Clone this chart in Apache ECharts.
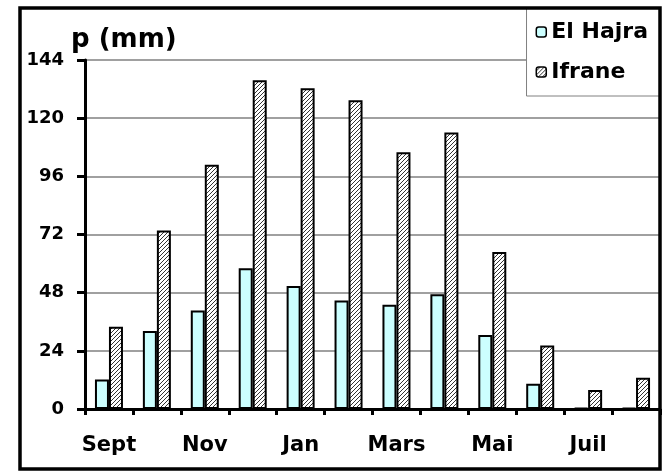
<!DOCTYPE html>
<html>
<head>
<meta charset="utf-8">
<script src="https://cdn.jsdelivr.net/npm/echarts@6/dist/echarts.min.js"></script>
<style>
html,body{margin:0;padding:0;background:#fff;}
#chart{width:664px;height:471px;}
</style>
</head>
<body>
<div id="chart"></div>
<script>
const categories = ['Sept','Oct','Nov','Déc','Jan','Fév','Mars','Avr','Mai','Juin','Juil','Août'];
const elHajra = [12.2, 32.2, 40.6, 58.1, 50.7, 44.8, 43.0, 47.3, 30.5, 10.4, 0.4, 0.4];
const ifrane  = [33.9, 73.6, 100.8, 135.6, 132.3, 127.4, 105.9, 114.1, 64.8, 26.2, 7.8, 12.9];
const yTicks = {min: 0, max: 144, interval: 24};
const seriesNames = ['El Hajra', 'Ifrane'];
const yTitle = 'p (mm)';

// hatch pattern for Ifrane
const pc = document.createElement('canvas');
pc.width = 4; pc.height = 4;
const ctx = pc.getContext('2d');
ctx.fillStyle = '#ffffff';
ctx.fillRect(0,0,4,4);
ctx.strokeStyle = '#333333';
ctx.lineWidth = 1;
ctx.beginPath();
ctx.moveTo(-1,5); ctx.lineTo(5,-1);
ctx.moveTo(-1,1); ctx.lineTo(1,-1);
ctx.moveTo(3,5); ctx.lineTo(5,3);
ctx.stroke();
const hatch = {image: pc, repeat: 'repeat'};

const FONT = 'DejaVu Sans';
const chart = echarts.init(document.getElementById('chart'), null, {renderer: 'canvas'});
chart.setOption({
  animation: false,
  backgroundColor: '#fff',
  grid: {left: 85, right: 4, top: 60, bottom: 62, containLabel: false},
  title: {
    text: yTitle, left: 66, top: 22,
    textStyle: {fontFamily: FONT, fontWeight: 'bold', fontSize: 26, color: '#000'}
  },
  legend: {
    data: seriesNames,
    orient: 'vertical',
    right: 4, top: 8,
    padding: [13, 12, 13, 9],
    itemGap: 18,
    itemWidth: 10, itemHeight: 10,
    borderColor: '#808080', borderWidth: 1,
    backgroundColor: '#fff',
    itemStyle: {borderColor: '#000', borderWidth: 1.5},
    textStyle: {fontFamily: FONT, fontWeight: 'bold', fontSize: 22, color: '#000'}
  },
  xAxis: {
    type: 'category',
    data: categories,
    boundaryGap: true,
    axisLine: {lineStyle: {color: '#000', width: 3}},
    axisTick: {show: true, interval: 0, length: 6, lineStyle: {color: '#000', width: 3}},
    axisLabel: {interval: 1, margin: 26, fontFamily: FONT, fontWeight: 'bold', fontSize: 21, color: '#000'},
    splitLine: {show: false}
  },
  yAxis: {
    type: 'value',
    min: yTicks.min, max: yTicks.max, interval: yTicks.interval,
    axisLine: {show: true, lineStyle: {color: '#000', width: 3}},
    axisTick: {show: true, length: 8, lineStyle: {color: '#000', width: 3}},
    axisLabel: {margin: 21, fontFamily: FONT, fontWeight: 'bold', fontSize: 18, color: '#000'},
    splitLine: {show: true, lineStyle: {color: '#808080', width: 1.5}}
  },
  series: [
    {
      name: seriesNames[0], type: 'bar', data: elHajra,
      barWidth: 14, barGap: '0%',
      itemStyle: {color: '#CCFFFF', borderColor: '#000', borderWidth: 2}
    },
    {
      name: seriesNames[1], type: 'bar', data: ifrane,
      barWidth: 14, barGap: '0%',
      itemStyle: {color: hatch, borderColor: '#000', borderWidth: 2}
    }
  ],
  graphic: [
    {type: 'rect', z: 100, silent: true,
     shape: {x: 20, y: 8, width: 640, height: 461},
     style: {fill: null, stroke: '#000', lineWidth: 3.5}}
  ]
});
</script>
</body>
</html>
